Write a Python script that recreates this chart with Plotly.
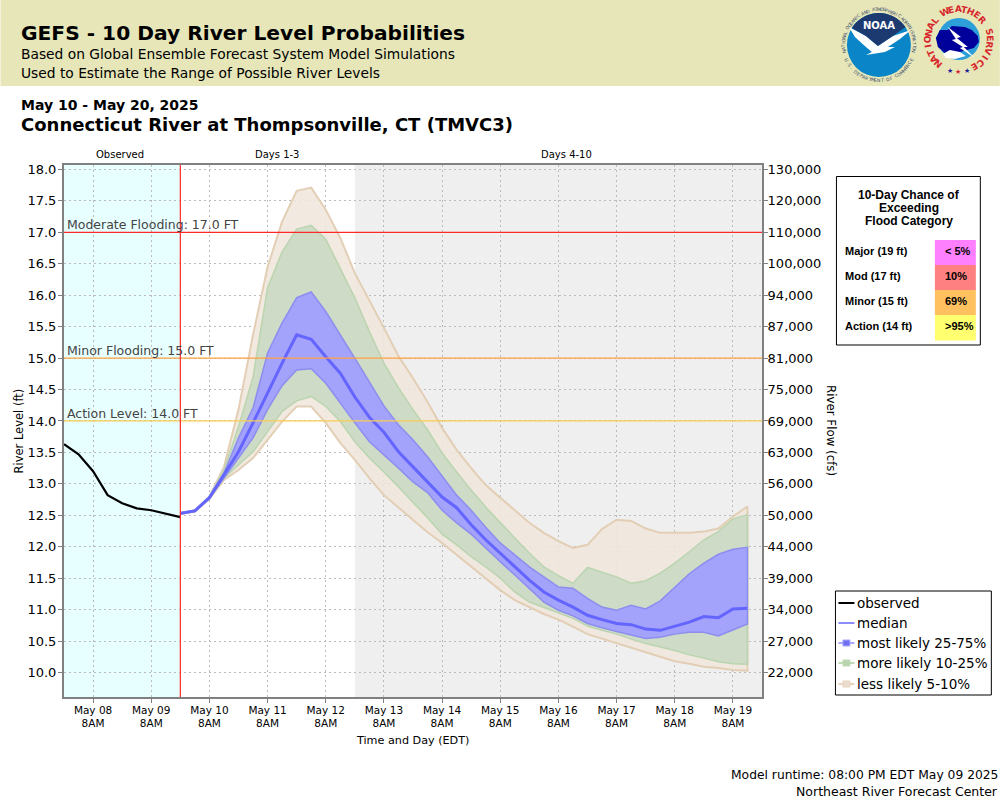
import math
import pandas as pd
import plotly.graph_objects as go

# ====================== Data ======================
obs_levels = [13.63, 13.47, 13.20, 12.82, 12.69, 12.61, 12.58, 12.53, 12.47]

median = [12.53, 12.57, 12.78, 13.14, 13.51, 13.97, 14.45, 14.92, 15.37, 15.30,
          15.02, 14.76, 14.38, 14.06, 13.82, 13.51, 13.27, 13.03, 12.79, 12.62,
          12.35, 12.11, 11.90, 11.68, 11.47, 11.28, 11.15, 11.04, 10.91, 10.84,
          10.78, 10.76, 10.69, 10.67, 10.74, 10.80, 10.89, 10.87, 11.01, 11.02]
blue_top = [12.54, 12.58, 12.79, 13.17, 13.73, 14.21, 15.08, 15.56, 15.96, 16.05,
            15.74, 15.38, 15.00, 14.62, 14.24, 13.94, 13.70, 13.43, 13.13, 12.82,
            12.58, 12.31, 12.06, 11.87, 11.68, 11.52, 11.36, 11.34, 11.18, 11.04,
            10.99, 11.07, 11.01, 11.14, 11.36, 11.57, 11.74, 11.88, 11.96, 11.99]
blue_bot = [12.52, 12.56, 12.77, 13.11, 13.41, 13.73, 14.18, 14.56, 14.81, 14.83,
            14.60, 14.29, 13.97, 13.67, 13.46, 13.25, 13.03, 12.86, 12.58, 12.38,
            12.20, 11.98, 11.76, 11.55, 11.34, 11.12, 10.99, 10.90, 10.78, 10.71,
            10.65, 10.59, 10.54, 10.56, 10.61, 10.64, 10.64, 10.58, 10.68, 10.77]
green_top = [12.54, 12.58, 12.79, 13.22, 13.91, 14.70, 16.12, 16.69, 17.05, 17.11,
             16.89, 16.42, 15.96, 15.42, 14.92, 14.53, 14.18, 13.86, 13.49, 13.19,
             12.90, 12.63, 12.38, 12.14, 11.90, 11.68, 11.54, 11.42, 11.67, 11.60,
             11.52, 11.42, 11.46, 11.58, 11.74, 11.92, 12.11, 12.24, 12.44, 12.51]
green_bot = [12.52, 12.56, 12.77, 13.09, 13.30, 13.51, 13.83, 14.15, 14.32, 14.39,
             14.23, 13.99, 13.67, 13.41, 13.19, 12.95, 12.71, 12.46, 12.20, 12.03,
             11.84, 11.68, 11.50, 11.28, 11.12, 11.03, 10.95, 10.86, 10.74, 10.67,
             10.61, 10.53, 10.46, 10.40, 10.35, 10.28, 10.23, 10.17, 10.14, 10.13]
tan_top = [12.54, 12.58, 12.80, 13.27, 14.18, 15.37, 16.45, 17.17, 17.66, 17.71,
           17.36, 16.91, 16.35, 15.92, 15.48, 15.03, 14.68, 14.30, 13.89, 13.54,
           13.25, 12.98, 12.78, 12.58, 12.38, 12.22, 12.09, 11.98, 12.03, 12.28,
           12.43, 12.41, 12.29, 12.22, 12.22, 12.22, 12.24, 12.29, 12.48, 12.64]
tan_bot = [12.52, 12.56, 12.76, 13.06, 13.22, 13.41, 13.70, 13.99, 14.23, 14.23,
           13.97, 13.65, 13.38, 13.09, 12.82, 12.62, 12.43, 12.23, 12.06, 11.87,
           11.68, 11.50, 11.31, 11.15, 11.04, 10.93, 10.84, 10.73, 10.61, 10.53,
           10.46, 10.39, 10.32, 10.25, 10.18, 10.14, 10.09, 10.07, 10.04, 10.03]

level_ticks = [18.0, 17.5, 17.0, 16.5, 16.0, 15.5, 15.0, 14.5, 14.0, 13.5, 13.0,
               12.5, 12.0, 11.5, 11.0, 10.5, 10.0]
flow_labels = ["130,000", "120,000", "110,000", "100,000", "94,000", "87,000", "81,000",
               "75,000", "69,000", "63,000", "56,000", "50,000", "44,000", "39,000",
               "34,000", "27,000", "22,000"]
day_ticks = ["05-08", "05-09", "05-10", "05-11", "05-12", "05-13", "05-14", "05-15",
             "05-16", "05-17", "05-18", "05-19"]
day_labels = ["May 08", "May 09", "May 10", "May 11", "May 12", "May 13", "May 14", "May 15",
              "May 16", "May 17", "May 18", "May 19"]

flood_names = ["Major (19 ft)", "Mod (17 ft)", "Minor (15 ft)", "Action (14 ft)"]
flood_chance = ["< 5%", "10%", "69%", ">95%"]
flood_colors = ["#FF80FF", "#FF8080", "#FFC060", "#FFFF70"]

flood_levels = [17.0, 15.0, 14.0]
flood_labels = ["Moderate Flooding: 17.0 FT", "Minor Flooding: 15.0 FT", "Action Level: 14.0 FT"]
flood_line_colors = ["#FF2828", "#FFA040", "#F8CC50"]

obs_times = pd.date_range("2025-05-07 20:00", periods=len(obs_levels), freq="6h")
fcst_times = pd.date_range("2025-05-09 20:00", periods=len(median), freq="6h")

FONT = "DejaVu Sans"
TAN_FILL, TAN_EDGE = "rgba(240,231,220,0.88)", "rgba(226,204,178,0.95)"
GREEN_FILL, GREEN_EDGE = "rgba(203,217,196,0.92)", "rgba(184,212,174,0.95)"
BLUE_FILL, BLUE_EDGE = "rgba(160,160,255,0.95)", "rgba(136,136,240,0.9)"
MEDIAN_COLOR = "#6464FF"

# Plot frame in page pixels, used to place everything outside the axes
LEFT, RIGHT, TOP, BOTTOM = 63.5, 762.0, 165.0, 697.0


def xp(px):
    return (px - LEFT) / (RIGHT - LEFT)


def yp(py):
    return (BOTTOM - py) / (BOTTOM - TOP)


fig = go.Figure()


def band(top, bot, fill, edge, width):
    fig.add_trace(go.Scatter(
        x=list(fcst_times) + list(fcst_times[::-1]),
        y=top + bot[::-1],
        mode="lines",
        fill="toself",
        fillcolor=fill,
        line=dict(color=edge, width=width),
        hoverinfo="skip",
        showlegend=False,
    ))


band(tan_top, tan_bot, TAN_FILL, TAN_EDGE, 2)
band(green_top, green_bot, GREEN_FILL, GREEN_EDGE, 1.5)
band(blue_top, blue_bot, BLUE_FILL, BLUE_EDGE, 1.5)

fig.add_trace(go.Scatter(x=fcst_times, y=median, mode="lines", name="median",
                         line=dict(color=MEDIAN_COLOR, width=3), showlegend=False))
fig.add_trace(go.Scatter(x=obs_times, y=obs_levels, mode="lines", name="observed",
                         line=dict(color="black", width=2.2), showlegend=False))
# Empty trace so the flow axis on the right is drawn
fig.add_trace(go.Scatter(x=[None], y=[None], yaxis="y2", showlegend=False))

shapes = []
notes = []


def text(px, py, s, size, color="black", anchor="left", bold=False, family=FONT, angle=0):
    notes.append(dict(
        x=xp(px), y=yp(py), xref="paper", yref="paper", text=f"<b>{s}</b>" if bold else s,
        showarrow=False, xanchor=anchor, yanchor="middle", textangle=angle, borderpad=0,
        xshift={"left": -2, "right": 1, "center": 0}[anchor],
        font=dict(family=family, size=size, color=color),
    ))


def rect(x0, y0, x1, y1, fill, line=None, width=1):
    shapes.append(dict(type="rect", xref="paper", yref="paper", x0=xp(x0), x1=xp(x1),
                       y0=yp(y0), y1=yp(y1), fillcolor=fill, layer="above",
                       line=dict(color=line, width=width) if line else dict(width=0)))


def circle(cx, cy, r, fill):
    shapes.append(dict(type="circle", xref="paper", yref="paper", x0=xp(cx - r), x1=xp(cx + r),
                       y0=yp(cy - r), y1=yp(cy + r), fillcolor=fill, line=dict(width=0),
                       layer="above"))


def poly(points, fill):
    path = "M " + " L ".join(f"{xp(a):.5f},{yp(b):.5f}" for a, b in points) + " Z"
    shapes.append(dict(type="path", xref="paper", yref="paper", path=path, fillcolor=fill,
                       line=dict(width=0), layer="above"))


def ring_text(cx, cy, r, s, start, end, size, color, bold=False, bottom=False):
    # one annotation per letter, angles are clockwise from the top of the circle
    step = (end - start) / (len(s) - 1)
    for i, ch in enumerate(s):
        a = start + i * step
        px = cx + r * math.sin(math.radians(a))
        py = cy - r * math.cos(math.radians(a))
        text(px, py, ch, size, color, "center", bold, angle=a - 180 if bottom else a)


# ====================== Header ======================
rect(0, 0, 1000, 86, "#E6E6B8")
text(21, 33, "GEFS - 10 Day River Level Probabilities", 20.2, bold=True)
text(21, 54, "Based on Global Ensemble Forecast System Model Simulations", 13.8)
text(21, 73, "Used to Estimate the Range of Possible River Levels", 13.8)
text(21, 105, "May 10 - May 20, 2025", 14, bold=True)
text(21, 125, "Connecticut River at Thompsonville, CT (TMVC3)", 18, bold=True)

# NOAA logo
circle(879, 45, 32, "#0A85C7")
poly([(849, 27), (855, 37), (866, 47), (872, 52), (866, 55), (885, 52), (895, 47), (888, 47),
      (900, 39), (911, 30), (893, 36), (878, 46), (866, 36)], "white")
cap = [(879 + 32 * math.sin(math.radians(a)), 45 - 32 * math.cos(math.radians(a)))
       for a in range(-58, 60, 6)]
poly(cap + [(893, 36), (878, 46), (866, 36)], "#1D3A70")
text(879, 25, "NOAA", 10, "white", "center", bold=True)
ring_text(879, 45, 35.5, "NATIONAL OCEANIC AND ATMOSPHERIC ADMINISTRATION", -100, 100, 4.5, "#3A4A6A")
ring_text(879, 45, 35.5, "U.S. DEPARTMENT OF COMMERCE", 245, 115, 4.5, "#3A4A6A", bottom=True)

# National Weather Service logo
circle(959, 39, 21, "#2C9FD9")
poly([(936, 38), (940, 30), (948, 30), (952, 26), (965, 27), (972, 30), (978, 36), (979, 42),
      (974, 48), (960, 52), (945, 53), (938, 47)], "#00009B")
poly([(943, 54), (950, 50), (960, 52), (966, 56), (955, 59), (946, 58)], "white")
poly([(948, 27), (961, 37), (957, 38), (968, 47), (964, 47), (975, 58), (960, 48), (963, 47),
      (952, 40), (956, 39)], "white")
ring_text(959, 40, 31, "NATIONAL WEATHER SERVICE", -139, 149, 9, "#D8262C", bold=True)
for sx, sy, sc in [(950, 71, "#1A1A9B"), (958, 72, "#D8262C"), (967, 71, "#1A1A9B")]:
    text(sx, sy, "★", 7, sc, "center")

# ====================== Plot regions and flood lines ======================
shapes.append(dict(type="rect", xref="x", yref="paper", x0=obs_times[0], x1=fcst_times[0],
                   y0=0, y1=1, fillcolor="#E8FFFF", line=dict(width=0), layer="below"))
shapes.append(dict(type="rect", xref="x", yref="paper", x0="2025-05-12 20:00", x1="2025-05-19 20:00",
                   y0=0, y1=1, fillcolor="#EFEFEF", line=dict(width=0), layer="below"))

for level, label, color in zip(flood_levels, flood_labels, flood_line_colors):
    shapes.append(dict(type="line", xref="paper", yref="y", x0=0, x1=1, y0=level, y1=level,
                       line=dict(color=color, width=1.3), layer="above"))
    notes.append(dict(x=xp(67), xref="paper", y=level, yref="y", text=label, showarrow=False,
                      xanchor="left", yanchor="bottom", yshift=-1, xshift=-1, borderpad=0,
                      font=dict(family=FONT, size=12.5, color="#444444")))
shapes.append(dict(type="line", xref="x", yref="paper", x0=fcst_times[0], x1=fcst_times[0],
                   y0=0, y1=1, line=dict(color="#FF2828", width=1.2), layer="above"))

text(120, 154, "Observed", 10, anchor="center")
text(276.5, 154, "Days 1-3", 10, anchor="center")
text(566.5, 154, "Days 4-10", 10, anchor="center")

text(18, 431, "River Level (ft)", 11.5, anchor="center", angle=-90)
text(831, 431, "River Flow (cfs)", 11.8, anchor="center", angle=90)
text(412, 740, "Time and Day (EDT)", 11.2, anchor="center")

# ====================== Flood category table ======================
rect(836.5, 176.5, 980.5, 345, "white", "black", 1)
text(909, 195, "10-Day Chance of", 12, anchor="center", bold=True, family="Liberation Sans")
text(909, 208, "Exceeding", 12, anchor="center", bold=True, family="Liberation Sans")
text(909, 221, "Flood Category", 12, anchor="center", bold=True, family="Liberation Sans")
row_tops = [240, 265, 290, 315]
for top, name, chance, color in zip(row_tops, flood_names, flood_chance, flood_colors):
    rect(935, top, 976, top + 25.5, color)
    text(846, top + 11, name, 11, bold=True, family="Liberation Sans")
    text(946, top + 11, chance, 11, bold=True, family="Liberation Sans")

# ====================== Legend ======================
rect(835.5, 591, 991.5, 695, "white", "black", 1)
legend_rows = [("observed", "black", None), ("median", "#8C8CFF", None),
               ("most likely 25-75%", "#A8A8FF", "#7070F0"),
               ("more likely 10-25%", "#C0DAB4", "#B8D4AE"),
               ("less likely 5-10%", "#E8D4BE", "#EBDDCD")]
for (label, line_color, box_color), py in zip(legend_rows, [603, 623, 643, 663, 684]):
    shapes.append(dict(type="line", xref="paper", yref="paper", x0=xp(838.5), x1=xp(854.5),
                       y0=yp(py), y1=yp(py), line=dict(color=line_color, width=2), layer="above"))
    if box_color:
        rect(843, py - 3, 850, py + 3, box_color, line_color, 1)
    text(858, py, label, 13.5)

text(998, 775, "Model runtime: 08:00 PM EDT May 09 2025", 12.3, anchor="right")
text(998, 791, "Northeast River Forecast Center", 12.5, anchor="right")

# ====================== Layout ======================
y_range = [9.61, 18.07]
axis_common = dict(showline=True, linecolor="#808080", linewidth=2, ticks="outside", ticklen=4,
                   tickcolor="#808080", tickfont=dict(family=FONT, size=13, color="black"))

fig.update_layout(
    width=1000,
    height=800,
    margin=dict(l=LEFT, r=1000 - RIGHT, t=TOP, b=800 - BOTTOM, pad=0),
    paper_bgcolor="white",
    plot_bgcolor="white",
    showlegend=False,
    shapes=shapes,
    annotations=notes,
    xaxis=dict(
        axis_common,
        range=["2025-05-07 20:00", "2025-05-19 20:00"],
        tickmode="array",
        tickvals=[f"2025-{d} 08:00" for d in day_ticks],
        ticktext=[f"{d}<br>8AM" for d in day_labels],
        tickfont=dict(family=FONT, size=10.5, color="black"),
        ticklabelstandoff=-2,
        showgrid=True, gridcolor="#BBBBBB", griddash="2px,3px", gridwidth=1,
        mirror=True, zeroline=False,
    ),
    yaxis=dict(
        axis_common,
        range=y_range,
        tickmode="array",
        tickvals=level_ticks,
        ticktext=[f"{v:.1f}" for v in level_ticks],
        ticklabelstandoff=-1,
        showgrid=True, gridcolor="#BBBBBB", griddash="2px,3px", gridwidth=1,
        zeroline=False,
    ),
    yaxis2=dict(
        axis_common,
        range=y_range,
        overlaying="y",
        side="right",
        tickmode="array",
        tickvals=level_ticks,
        ticktext=flow_labels,
        ticklabelstandoff=-3,
        showgrid=False,
        zeroline=False,
    ),
)

fig.write_html("out.html", config={"displayModeBar": False},
               post_script="document.body.style.margin='0';")
